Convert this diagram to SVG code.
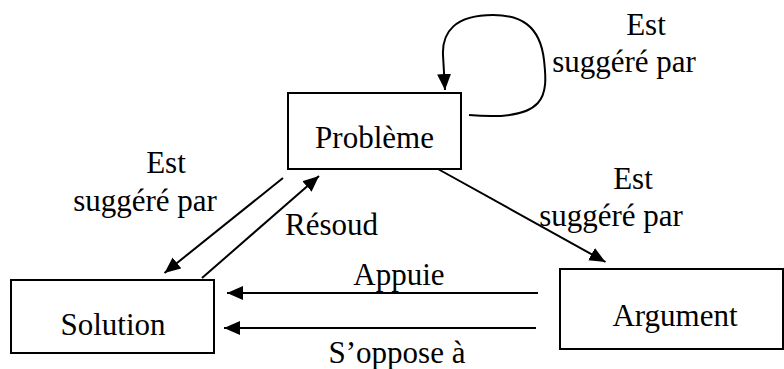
<svg xmlns="http://www.w3.org/2000/svg" width="784" height="369" viewBox="0 0 784 369" font-family="'Liberation Serif', 'DejaVu Serif', 'Times New Roman', serif">
<style>
.box{fill:#fff;stroke:#000;stroke-width:2}
.ln{fill:none;stroke:#000;stroke-width:2;marker-end:url(#ah)}
text{font-family:'Liberation Serif','DejaVu Serif',serif;font-size:31px;fill:#000}
.m{text-anchor:middle}
</style>
<defs>
<marker id="ah" markerUnits="userSpaceOnUse" markerWidth="17" markerHeight="15" refX="16" refY="7" orient="auto" viewBox="0 0 17 15">
<path d="M0,0 L16,7 L0,14 z" fill="#000"/>
</marker>
</defs>
<rect width="784" height="369" fill="#fff"/>
<g id="connectors">
<path class="ln" d="M469,115 C548,122 548,95 544,60 C540,25 520,15 493,15 C455,15 442,32 443,55 L445,90"/>
<line class="ln" x1="283" y1="178" x2="164.5" y2="273"/>
<line class="ln" x1="202" y1="278" x2="319" y2="176"/>
<line class="ln" x1="438" y1="169" x2="605.5" y2="262"/>
<line class="ln" x1="538" y1="293" x2="227" y2="293"/>
<line class="ln" x1="536" y1="328" x2="224" y2="328"/>
</g>
<g id="labels">
<text class="m" x="646" y="35">Est</text>
<text class="m" x="624" y="72">suggéré par</text>
<text class="m" x="166" y="173">Est</text>
<text class="m" x="145" y="211">suggéré par</text>
<text x="285" y="235">Résoud</text>
<text class="m" x="633" y="189">Est</text>
<text class="m" x="611" y="226">suggéré par</text>
<text class="m" x="399" y="285">Appuie</text>
<text class="m" x="397" y="363">S’oppose à</text>
</g>
<g id="probleme">
<rect class="box" x="288" y="93" width="173" height="76"/>
<text class="m" x="374.5" y="148">Problème</text>
</g>
<g id="solution">
<rect class="box" x="11" y="280" width="203" height="73"/>
<text class="m" x="113" y="335">Solution</text>
</g>
<g id="argument">
<rect class="box" x="560" y="269" width="223" height="80"/>
<text class="m" x="675" y="326">Argument</text>
</g>
</svg>
